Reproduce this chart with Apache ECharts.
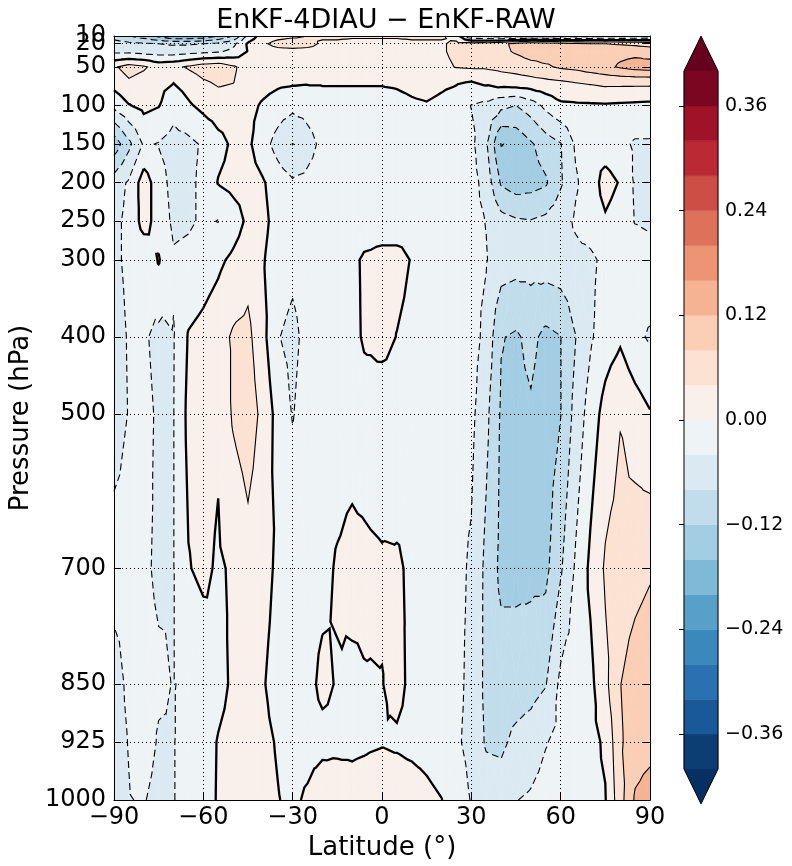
<!DOCTYPE html>
<html>
<head>
<meta charset="utf-8">
<title>EnKF-4DIAU − EnKF-RAW</title>
<script src="https://cdn.jsdelivr.net/npm/echarts@6.0.0/dist/echarts.min.js"></script>
<style>
html,body{margin:0;padding:0;background:#ffffff;}
#chart{width:792px;height:866px;}
</style>
</head>
<body>
<div id="chart"></div>
<script>
// ---------------- data ----------------
const lats = [-90,-85,-80,-75,-70,-65,-60,-55,-50,-45,-40,-35,-30,-25,-20,-15,-10,-5,0,5,10,15,20,25,30,35,40,45,50,55,60,65,70,75,80,85,90];
const pressures = [10,20,30,50,70,100,150,200,250,300,400,500,700,850,925,1000];

const d10   = [-0.10,-0.12,-0.14,-0.17,-0.20,-0.20,-0.19,-0.16,-0.12,-0.03, 0.02,0.03,0.035,0.04,0.045,0.045,0.045,0.045,0.045,0.045,0.045,0.045,0.045,0.02, -0.08,-0.09,-0.10,-0.10,-0.10,-0.10,-0.10,-0.10,-0.095,-0.09,-0.09,-0.085,-0.08];
const d20   = [-0.06,-0.07,-0.075,-0.08,-0.085,-0.085,-0.08,-0.07,-0.05,0.005, 0.035,0.05,0.055,0.05,0.035,0.035,0.03,0.03,0.03,0.03,0.035,0.035,0.035,0.05, 0.055,0.06,0.07,0.09,0.105,0.10,0.09,0.085,0.08,0.08,0.075,0.07,0.065];
const d30   = [-0.05,-0.05,-0.055,-0.06,-0.06,-0.055,-0.05,-0.045,-0.03,0.002, 0.025,0.03,0.03,0.03,0.03,0.028,0.025,0.025,0.025,0.025,0.028,0.03,0.035,0.05, 0.055,0.06,0.07,0.085,0.10,0.10,0.095,0.095,0.10,0.105,0.11,0.11,0.10];
const d50   = [0.035,0.055,0.045,0.025,0.03,0.045,0.06,0.065,0.045,0.025, 0.02,0.02,0.02,0.02,0.02,0.02,0.02,0.02,0.02,0.02,0.022,0.025,0.03,0.042, 0.045,0.045,0.05,0.055,0.065,0.075,0.085,0.09,0.10,0.11,0.125,0.135,0.14];
const d70   = [0.015,0.035,0.025,0.01,0.001,0.015,0.035,0.045,0.041,0.025, 0.015,0.008,0.005,0.003,0.003,0.003,0.003,0.003,0.003,0.005,0.01,0.015,0.008,0.003, -0.002,0.008,0.018,0.022,0.025,0.03,0.035,0.041,0.045,0.05,0.05,0.05,0.05];
const d100  = [-0.03,-0.002,0.01,0.002,-0.025,-0.005,0.01,0.02,0.02,0.012, -0.005,-0.02,-0.03,-0.025,-0.015,-0.015,-0.015,-0.015,-0.015,-0.012,-0.006,-0.003,-0.01,-0.02, -0.041,-0.05,-0.07,-0.08,-0.06,-0.03,-0.008,-0.006,-0.005,-0.004,-0.006,-0.008,-0.01];
const d150  = [-0.145,-0.09,-0.035,-0.042,-0.055,-0.05,-0.035,-0.012,0.006,0.008, -0.025,-0.055,-0.081,-0.055,-0.03,-0.02,-0.015,-0.012,-0.01,-0.01,-0.012,-0.015,-0.02,-0.025, -0.03,-0.075,-0.162,-0.15,-0.125,-0.10,-0.082,-0.035,-0.015,-0.02,-0.03,-0.045,-0.045];
const d200  = [-0.06,-0.035,0.02,-0.02,-0.055,-0.05,-0.03,0.002,0.012,0.015, 0.004,-0.02,-0.035,-0.03,-0.02,-0.015,-0.012,-0.01,-0.008,-0.008,-0.01,-0.012,-0.015,-0.02, -0.025,-0.055,-0.125,-0.14,-0.135,-0.125,-0.085,-0.045,-0.02,0.015,-0.003,-0.045,-0.05];
const d250  = [-0.05,-0.03,0.015,-0.015,-0.048,-0.045,-0.035,-0.041,-0.02,0.008, 0.01,-0.015,-0.03,-0.025,-0.018,-0.015,-0.015,-0.02,-0.02,-0.02,-0.015,-0.012,-0.015,-0.02, -0.03,-0.041,-0.065,-0.075,-0.078,-0.07,-0.055,-0.035,-0.02,-0.005,-0.02,-0.042,-0.05];
const d300  = [-0.045,-0.035,-0.03,0.003,-0.035,-0.03,-0.02,-0.008,0.008,0.025, 0.003,-0.02,-0.03,-0.02,-0.015,-0.012,-0.006,0.006,0.012,0.012,-0.002,-0.015,-0.02,-0.025, -0.03,-0.038,-0.06,-0.065,-0.065,-0.06,-0.055,-0.05,-0.048,-0.03,-0.015,-0.015,-0.01];
const d400  = [-0.05,-0.038,-0.035,-0.05,-0.042,0.003,0.012,0.025,0.045,0.05, 0.012,-0.038,-0.05,-0.028,-0.02,-0.015,-0.008,0.006,0.012,-0.001,-0.01,-0.015,-0.02,-0.022, -0.025,-0.05,-0.118,-0.125,-0.11,-0.13,-0.121,-0.081,-0.045,-0.02,-0.006,-0.03,-0.045];
const d500  = [-0.05,-0.039,-0.03,-0.045,-0.041,0.01,0.015,0.006,0.045,0.06, 0.03,-0.015,-0.042,-0.02,-0.015,-0.015,-0.014,-0.02,-0.025,-0.02,-0.015,-0.015,-0.02,-0.025, -0.03,-0.07,-0.125,-0.13,-0.125,-0.14,-0.121,-0.066,-0.022,0.015,0.038,0.02,0.003];
const d700  = [-0.03,-0.03,-0.035,-0.045,-0.041,-0.002,0.008,-0.005,0.005,0.025, 0.01,-0.005,-0.012,-0.012,-0.008,0.003,0.01,0.008,0.005,0.004,-0.005,-0.012,-0.02,-0.03, -0.045,-0.09,-0.13,-0.13,-0.13,-0.13,-0.085,-0.035,0.008,0.045,0.055,0.065,0.075];
const d850  = [-0.05,-0.035,-0.03,-0.035,-0.041,-0.035,-0.025,-0.01,0.005,0.01, 0.002,-0.01,-0.015,-0.008,0.006,-0.002,-0.006,-0.002,-0.001,0.01,-0.008,-0.012,-0.02,-0.03, -0.05,-0.09,-0.10,-0.10,-0.095,-0.082,-0.03,-0.02,-0.01,0.03,0.079,0.10,0.11];
const d925  = [-0.05,-0.039,-0.025,-0.043,-0.041,-0.03,-0.015,0.002,0.01,0.012, 0.006,-0.002,-0.01,-0.01,-0.008,-0.006,-0.006,-0.004,-0.002,-0.005,-0.01,-0.015,-0.025,-0.035, -0.05,-0.085,-0.088,-0.07,-0.06,-0.042,-0.03,-0.02,-0.01,0.005,0.075,0.10,0.105];
const d1000 = [-0.05,-0.041,-0.038,-0.05,-0.041,-0.03,-0.015,0.003,0.01,0.01, 0.008,0.001,-0.005,0.004,0.018,0.015,0.012,0.015,0.02,0.022,0.02,0.011,0.001,-0.02, -0.042,-0.055,-0.06,-0.041,-0.035,-0.025,-0.02,-0.015,-0.008,-0.002,0.065,0.125,0.14];

const yTickValues = [10,20,50,100,150,200,250,300,400,500,700,850,925,1000];
const yLabelsMain = [50,100,150,200,250,300,400,500,700,850,925,1000];
const yLabel10 = [10];
const yLabel20 = [20];
const xTickValues = [-90,-60,-30,0,30,60,90];
const contourLevels = [-0.40,-0.36,-0.32,-0.28,-0.24,-0.20,-0.16,-0.12,-0.08,-0.04,0.00,0.04,0.08,0.12,0.16,0.20,0.24,0.28,0.32,0.36,0.40];
const colorbarTicks = [-0.36,-0.24,-0.12,0.00,0.12,0.24,0.36];

const field = [d10,d20,d30,d50,d70,d100,d150,d200,d250,d300,d400,d500,d700,d850,d925,d1000];

// ---------------- colour map (RdBu reversed) ----------------
const RDBU_R = ['#053061','#2166ac','#4393c3','#92c5de','#d1e5f0','#f7f7f7','#fddbc7','#f4a582','#d6604d','#b2182b','#67001f'];
function hexToRgb(h){return [parseInt(h.slice(1,3),16),parseInt(h.slice(3,5),16),parseInt(h.slice(5,7),16)];}
function cmap(t){
  t=Math.max(0,Math.min(1,t)); const s=t*10; let k=Math.floor(s); if(k>9)k=9; const f=s-k;
  const a=hexToRgb(RDBU_R[k]), b=hexToRgb(RDBU_R[k+1]);
  return 'rgb('+a.map((x,i)=>Math.round(x+(b[i]-x)*f)).join(',')+')';
}
const NB = contourLevels.length + 1;
const bandColors = [];
for (let k=0;k<NB;k++){
  if(k===0) bandColors.push(cmap(0));
  else if(k===NB-1) bandColors.push(cmap(1));
  else bandColors.push(cmap((k-0.5)/(contourLevels.length-1)));
}

// ---------------- contouring (filled bands + lines) ----------------
function fix(v){ for (const L of contourLevels) if (Math.abs(v-L)<1e-9) return v+1e-7; return v; }
function bandOf(v){ let k=0; for (const L of contourLevels) if (v>=L) k++; return k; }
function clipPoly(poly, L, keepAbove){
  const out=[]; const n=poly.length;
  for (let m=0;m<n;m++){
    const A=poly[m], B=poly[(m+1)%n];
    const ina = keepAbove ? A.v>=L : A.v<=L;
    const inb = keepAbove ? B.v>=L : B.v<=L;
    if (ina) out.push(A);
    if (ina!==inb){ const t=(L-A.v)/(B.v-A.v); out.push({x:A.x+t*(B.x-A.x), y:A.y+t*(B.y-A.y), v:L}); }
  }
  return out;
}
const nx=lats.length, ny=pressures.length;
const triangles=[]; const fillPolys=[];
function fillTri(tri){
  const vs=tri.map(p=>p.v);
  const bmin=bandOf(Math.min(...vs)), bmax=bandOf(Math.max(...vs));
  if (bmin===bmax){ fillPolys.push({pts:tri.map(p=>[p.x,p.y]), band:bmin}); return; }
  for (let k=bmin;k<=bmax;k++){
    let poly=tri.map(p=>({x:p.x,y:p.y,v:p.v}));
    if (k>0) poly=clipPoly(poly, contourLevels[k-1], true);
    if (k<NB-1 && poly.length) poly=clipPoly(poly, contourLevels[k], false);
    if (poly.length>=3) fillPolys.push({pts:poly.map(p=>[p.x,p.y]), band:k});
  }
}
for (let j=0;j<ny-1;j++) for (let i=0;i<nx-1;i++){
  const c=[[i,j],[i+1,j],[i+1,j+1],[i,j+1]].map(([a,b])=>({x:lats[a],y:pressures[b],v:fix(field[b][a]),id:b*nx+a}));
  const ctr={x:(c[0].x+c[1].x)/2, y:(c[0].y+c[3].y)/2, v:fix((c[0].v+c[1].v+c[2].v+c[3].v)/4), id:nx*ny+j*(nx-1)+i};
  const tris=[]; for (let t=0;t<4;t++) tris.push([c[t],c[(t+1)%4],ctr]);
  triangles.push(...tris);
  const bs=c.map(p=>bandOf(p.v)).concat([bandOf(ctr.v)]);
  if (bs.every(b=>b===bs[0])) fillPolys.push({pts:c.map(p=>[p.x,p.y]), band:bs[0]});
  else tris.forEach(fillTri);
}
function traceLevel(L){
  const segs=[];
  for (const tri of triangles){
    const s=tri.map(p=>p.v>=L);
    if (s[0]===s[1] && s[1]===s[2]) continue;
    const pts=[];
    for (let e=0;e<3;e++){
      const A=tri[e], B=tri[(e+1)%3];
      if ((A.v>=L)!==(B.v>=L)){
        const t=(L-A.v)/(B.v-A.v);
        pts.push({key:(A.id<B.id? A.id+'_'+B.id : B.id+'_'+A.id), p:[A.x+t*(B.x-A.x), A.y+t*(B.y-A.y)]});
      }
    }
    if (pts.length===2) segs.push(pts);
  }
  const byKey=new Map();
  segs.forEach((s,idx)=>{ s.forEach(q=>{ if(!byKey.has(q.key)) byKey.set(q.key,[]); byKey.get(q.key).push(idx); }); });
  const used=new Array(segs.length).fill(false);
  const chains=[];
  for (let idx=0;idx<segs.length;idx++){
    if (used[idx]) continue;
    used[idx]=true;
    const pts=[segs[idx][0].p, segs[idx][1].p];
    for (const dir of [1,0]){
      let key=segs[idx][dir].key;
      while(true){
        const lst=byKey.get(key)||[]; let nxt=-1;
        for (const m of lst) if(!used[m]){nxt=m;break;}
        if (nxt<0) break;
        used[nxt]=true;
        const s=segs[nxt];
        const other = s[0].key===key ? s[1] : s[0];
        if (dir===1) pts.push(other.p); else pts.unshift(other.p);
        key=other.key;
      }
    }
    chains.push(pts);
  }
  return chains;
}
const contourChains=[];
contourLevels.forEach(L=>{ traceLevel(L).forEach(pts=>contourChains.push({pts, level:L})); });

// ---------------- chart ----------------
const FONT='DejaVu Sans';
const minusFmt = v => (v<0?'\u2212':'') + Math.abs(v);
const chart = echarts.init(document.getElementById('chart'), null, {renderer:'canvas'});
const yLabelStyle = {fontFamily:FONT, fontSize:24, color:'#000', margin:8};
function labelOnlyAxis(values){
  return {gridIndex:0, type:'value', min:10, max:1000, inverse:true, position:'left', offset:0, z:5,
    axisLine:{show:false}, axisTick:{show:false}, splitLine:{show:false},
    axisLabel:Object.assign({customValues:values, formatter:v=>String(v), showMinLabel:true, showMaxLabel:true}, yLabelStyle)};
}
const option = {
  animation:false,
  backgroundColor:'#ffffff',
  title:{text:'EnKF-4DIAU \u2212 EnKF-RAW', left:381, top:2, textAlign:'center',
    textStyle:{fontFamily:FONT, fontSize:27, fontWeight:'normal', color:'#000'}},
  grid:[
    {left:113, top:36, width:537, height:767},
    {left:684, top:71, width:34, height:698}
  ],
  xAxis:[
    {gridIndex:0, type:'value', min:-90, max:90, interval:30, position:'bottom', z:5,
      name:'Latitude (\u00b0)', nameLocation:'middle', nameGap:35,
      nameTextStyle:{fontFamily:FONT, fontSize:26, color:'#000'},
      axisLine:{show:true, onZero:false, lineStyle:{color:'#000', width:1}},
      axisTick:{show:true, inside:true, length:7, lineStyle:{color:'#000'}},
      axisLabel:{fontFamily:FONT, fontSize:24, color:'#000', margin:6, formatter:minusFmt, showMinLabel:true, showMaxLabel:true},
      splitLine:{show:true, lineStyle:{color:'#000', width:1, type:[1,3]}}},
    {gridIndex:0, type:'value', min:-90, max:90, interval:30, position:'top', z:5,
      axisLine:{show:true, onZero:false, lineStyle:{color:'#000', width:1}},
      axisTick:{show:true, inside:true, length:7, lineStyle:{color:'#000'}},
      axisLabel:{show:false}, splitLine:{show:false}},
    {gridIndex:1, type:'value', min:0, max:1, show:false}
  ],
  yAxis:[
    {gridIndex:0, type:'value', min:10, max:1000, inverse:true, position:'left', z:5,
      name:'Pressure (hPa)', nameLocation:'middle', nameGap:72,
      nameTextStyle:{fontFamily:FONT, fontSize:26, color:'#000'},
      axisLine:{show:true, onZero:false, lineStyle:{color:'#000', width:1}},
      axisTick:{show:true, inside:true, length:7, customValues:yTickValues, lineStyle:{color:'#000'}},
      axisLabel:Object.assign({customValues:yLabelsMain, formatter:v=>String(v), hideOverlap:false, showMinLabel:true, showMaxLabel:true}, yLabelStyle),
      splitLine:{show:true, lineStyle:{color:'#000', width:1, type:[1,3]}}},
    {gridIndex:0, type:'value', min:10, max:1000, inverse:true, position:'right', z:5,
      axisLine:{show:true, onZero:false, lineStyle:{color:'#000', width:1}},
      axisTick:{show:true, inside:true, length:7, customValues:yTickValues, lineStyle:{color:'#000'}},
      axisLabel:{show:false}, splitLine:{show:false}},
    {gridIndex:1, type:'value', min:-0.4, max:0.4, position:'right', z:5,
      axisLine:{show:false},
      axisTick:{show:true, inside:true, length:5, customValues:colorbarTicks, lineStyle:{color:'#000'}},
      axisLabel:{fontFamily:FONT, fontSize:19, color:'#000', margin:7, customValues:colorbarTicks,
        formatter:v=>(v<0?'\u2212':'')+Math.abs(v).toFixed(2)},
      splitLine:{show:false}},
    labelOnlyAxis(yLabel10),
    labelOnlyAxis(yLabel20)
  ],
  series:[
    {type:'custom', name:'fill', xAxisIndex:0, yAxisIndex:0, z:1, clip:true, silent:true, progressive:0,
      data: fillPolys.map((f,i)=>[f.pts[0][0], f.pts[0][1], i]),
      encode:{x:0, y:1},
      renderItem:(params, api)=>{
        const f=fillPolys[api.value(2)];
        const col=bandColors[f.band];
        return {type:'polygon', shape:{points:f.pts.map(q=>api.coord(q))}, style:{fill:col, stroke:col, lineWidth:0.6}};
      }},
    {type:'custom', name:'contours', xAxisIndex:0, yAxisIndex:0, z:2, clip:true, silent:true, progressive:0,
      data: contourChains.map((c,i)=>[c.pts[0][0], c.pts[0][1], i]),
      encode:{x:0, y:1},
      renderItem:(params, api)=>{
        const c=contourChains[api.value(2)];
        const L=c.level;
        const isZero=Math.abs(L)<1e-9;
        return {type:'polyline', shape:{points:c.pts.map(q=>api.coord(q))},
          style:{fill:null, stroke:'#000', lineWidth:isZero?2.3:1.1, lineDash:(L<-1e-9)?[7,4]:null}};
      }},
    {type:'custom', name:'colorbar', xAxisIndex:2, yAxisIndex:2, z:2, clip:false, silent:true,
      data: Array.from({length:NB+1},(_,k)=>[0.5, 0, k]),
      encode:{x:0, y:1},
      renderItem:(params, api)=>{
        const k=api.value(2);
        const x0=api.coord([0,0])[0], x1=api.coord([1,0])[0], xm=(x0+x1)/2;
        const yTop=api.coord([0,contourLevels[contourLevels.length-1]])[1];
        const yBot=api.coord([0,contourLevels[0]])[1];
        const ext=(yBot-yTop)*0.05;
        if (k>=1 && k<=NB-2){
          const ya=api.coord([0,contourLevels[k]])[1], yb=api.coord([0,contourLevels[k-1]])[1];
          return {type:'rect', shape:{x:x0, y:ya, width:x1-x0, height:yb-ya}, style:{fill:bandColors[k], stroke:bandColors[k], lineWidth:0.5}};
        }
        if (k===0) return {type:'polygon', shape:{points:[[x0,yBot],[x1,yBot],[xm,yBot+ext]]}, style:{fill:bandColors[0]}};
        if (k===NB-1) return {type:'polygon', shape:{points:[[x0,yTop],[x1,yTop],[xm,yTop-ext]]}, style:{fill:bandColors[NB-1]}};
        return {type:'polygon', shape:{points:[[x0,yTop],[xm,yTop-ext],[x1,yTop],[x1,yBot],[xm,yBot+ext],[x0,yBot]]},
          style:{fill:null, stroke:'#000', lineWidth:1}};
      }}
  ]
};
chart.setOption(option);
</script>
</body>
</html>
